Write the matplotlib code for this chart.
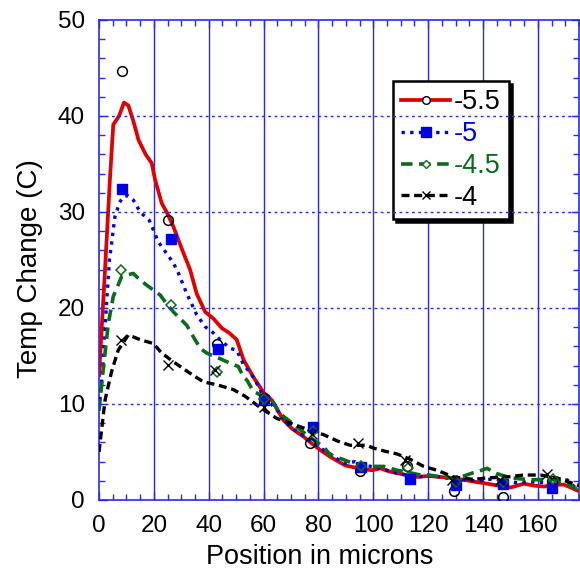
import matplotlib
matplotlib.use("Agg")
import matplotlib.pyplot as plt
from matplotlib.lines import Line2D
from matplotlib.ticker import MultipleLocator

plt.rcParams['font.family'] = ['Liberation Sans', 'DejaVu Sans']

# ---- simulated curves ----
x_a = [0, 2, 4, 5.2, 7.3, 9.1, 10.7, 12.5, 14.4, 17, 19.2, 20.5, 22.9, 25, 27.1, 30, 33.2, 35.6, 38.7,
       41.7, 44.8, 47.5, 50.2, 52.7, 56.3, 60, 63, 67.3, 70.5, 74.6, 77.5, 80.7, 84.3, 87.3, 89.8, 93,
       96.5, 99.5, 102.6, 105.5, 108.6, 112, 115.9, 120, 124.5, 128.5, 133, 137, 141.5, 145.5, 150,
       152.5, 154.9, 158.5, 162.2, 166, 169.5, 172, 174.3]
y_a = [13, 23, 33.5, 39.1, 40, 41.4, 41.1, 39.5, 37.5, 36, 35.1, 33.3, 30.9, 29.8, 28.5, 26.3, 24, 21.5,
       19.6, 18.9, 17.9, 17.4, 16.7, 14.6, 12.8, 11.2, 10.4, 8.3, 7.4, 6.6, 5.9, 5.2, 4.5, 4.0, 3.6, 3.4,
       3.2, 3.1, 3.3, 3.0, 2.8, 2.6, 2.4, 2.5, 2.4, 2.3, 2.1, 1.9, 1.7, 1.5, 1.3, 1.5, 1.7, 1.5, 1.4,
       1.6, 1.6, 1.3, 1.0]

x_b = [0, 1.2, 2.2, 3.8, 5.8, 7.5, 8.9, 10.5, 12.5, 15, 18.4, 21.6, 24.1, 27.1, 29, 32, 35.6, 38.7,
       41.7, 44.5, 47.8, 50.2, 52.7, 56.3, 60, 64.8, 69.7, 75, 78, 81.9, 84.3, 89.2, 93.4, 97, 101.3,
       105, 108.6, 112, 116, 120, 124.5, 128.5, 133, 138, 143.9, 148, 152.4, 157, 162.2, 166.5, 170.7,
       174.3]
y_b = [9.5, 13, 18, 25, 29.5, 31, 31.6, 31.7, 31.25, 30, 29.1, 26.9, 25.9, 24.7, 23.6, 21.5, 19.3,
       18.05, 17.4, 16.6, 15.8, 15.6, 14.1, 12.8, 10.8, 9.4, 7.6, 6.6, 5.9, 5.2, 4.8, 3.8, 4.0, 3.6,
       3.4, 3.1, 2.8, 2.6, 2.4, 2.5, 2.4, 2.2, 2.1, 2.0, 2.2, 2.0, 1.8, 1.9, 1.8, 1.9, 2.1, 1.1]

x_c = [0, 1.5, 3.4, 5.2, 8.3, 12.5, 15, 19.2, 22.3, 24.5, 27.1, 32, 34.4, 36.9, 39.3, 43.5, 46.6, 50.8,
       52.7, 53.9, 56.3, 60, 63, 66, 72.2, 77, 81.9, 84.3, 89.2, 95.3, 99.5, 103.8, 108.6, 112.5,
       117.2, 120.5, 124.5, 129, 133, 136, 138.5, 141.5, 144.5, 150, 157.3, 164.6, 169.5, 172, 174.3]
y_c = [9.3, 13.5, 18.4, 21.2, 23.3, 23.6, 22.9, 22.0, 21.35, 20.5, 19.6, 18.2, 17.0, 15.8, 15.3, 14.8,
       14.4, 13.9, 12.8, 12.5, 11.3, 10.8, 10.4, 9.0, 7.6, 6.5, 5.55, 4.7, 4.2, 3.5, 3.5, 3.5, 3.1, 2.9,
       2.6, 2.6, 2.4, 2.3, 2.5, 2.8, 3.0, 3.3, 2.8, 2.3, 2.1, 2.15, 1.9, 1.5, 1.1]

x_d = [0, 2.2, 4.6, 7, 10.7, 15, 19.8, 22.9, 27.1, 33.2, 38.1, 43, 49, 53.3, 57.5, 60, 64.8, 69.7, 74.6,
       81.9, 87.3, 91.6, 97.7, 100.1, 104, 108.6, 113, 118.4, 123.2, 129.3, 136.6, 141.5, 148.8, 154.9,
       161, 167, 170, 173.1, 175]
y_d = [5.0, 10.4, 13.4, 15.6, 17.2, 16.7, 16.3, 15.3, 14.4, 13.2, 12.3, 12.0, 11.5, 10.8, 9.9, 9.4, 8.5,
       8.0, 7.5, 6.8, 6.1, 5.7, 5.7, 5.4, 5.1, 4.8, 4.3, 3.5, 3.1, 2.4, 2.15, 2.3, 2.4, 2.6, 2.6, 2.3,
       2.0, 1.7, 1.5]

# ---- measured points ----
mx_a = [8.3, 25, 43.2, 60, 77, 95.3, 112.3, 129.3, 147.3, 165]
my_a = [44.7, 29.2, 16.3, 10.6, 5.9, 3.05, 3.5, 0.94, 0.28, 2.0]
mx_b = [8.3, 26.3, 43.3, 60, 78.2, 95.5, 113.5, 130.3, 147.3, 165.2]
my_b = [32.4, 27.2, 15.7, 10.4, 7.6, 3.4, 2.2, 1.6, 1.7, 1.3]
mx_c = [8, 26.2, 43, 60, 78, 95.5, 112.5, 130.3, 147.3, 165.6]
my_c = [24.0, 20.3, 13.3, 10.5, 7.2, 3.5, 3.3, 1.9, 1.9, 2.15]
mx_d = [8, 25.3, 42.3, 60, 77.6, 94.6, 111.7, 128.7, 146.3, 163.4]
my_d = [16.7, 14.1, 13.5, 9.7, 6.9, 5.97, 4.2, 2.1, 2.1, 2.7]

labels = ['-5.5', '-5', '-4.5', '-4']
colors = ['#e00000', '#0000e0', '#0b6b1a', '#000000']
label_colors = ['#000000', '#0000e0', '#0b6b1a', '#000000']
xticks = [0, 20, 40, 60, 80, 100, 120, 140, 160]
yticks = [0, 10, 20, 30, 40, 50]

fig = plt.figure(figsize=(5.8, 5.74), dpi=100)
ax = fig.add_axes([99/580, 74/574, 480/580, 480/574])

grid_col = '#2a2ae6'
ax.set_xlim(0, 175)
ax.set_ylim(0, 50)
ax.set_xticks(xticks)
ax.set_yticks(yticks)
ax.xaxis.set_minor_locator(MultipleLocator(5))
ax.yaxis.set_minor_locator(MultipleLocator(2))

for xv in xticks[1:]:
    ax.axvline(xv, color=grid_col, lw=1.0, zorder=1)
for yv in yticks[1:-1]:
    ax.axhline(yv, color=grid_col, lw=1.0, ls=(0, (2, 2.5)), zorder=6)

ax.plot(x_a, y_a, color=colors[0], lw=2.7, zorder=3, solid_joinstyle='round')
ax.plot(x_b, y_b, color=colors[1], lw=2.4, ls=(0, (1.0, 1.6)), zorder=3)
ax.plot(x_c, y_c, color=colors[2], lw=2.6, ls=(0, (3.2, 1.8)), zorder=3)
ax.plot(x_d, y_d, color=colors[3], lw=2.4, ls=(0, (2.4, 1.4)), zorder=3)

ax.plot(mx_a, my_a, ls='none', marker='o', ms=7, mfc='none', mec='black', mew=1.1, zorder=4)
ax.plot(mx_b, my_b, ls='none', marker='s', ms=7.5, mfc=colors[1], mec=colors[1], zorder=4)
ax.plot(mx_c, my_c, ls='none', marker='D', ms=5.5, mfc='none', mec=colors[2], mew=1.1, zorder=4)
ax.plot(mx_d, my_d, ls='none', marker='x', ms=7, mec='black', mew=1.0, zorder=4)

handles = [
    Line2D([], [], color=colors[0], lw=2.7, marker='o', ms=5.5, mfc='white', mec='black', mew=1.0),
    Line2D([], [], color=colors[1], lw=2.4, ls=(0, (1.0, 1.6)), marker='s', ms=6.5, mfc=colors[1], mec=colors[1]),
    Line2D([], [], color=colors[2], lw=2.6, ls=(0, (3.2, 1.8)), marker='D', ms=4.5, mfc='white', mec=colors[2], mew=1.0),
    Line2D([], [], color=colors[3], lw=2.4, ls=(0, (2.4, 1.4)), marker='x', ms=6, mec='black', mew=1.0),
]
leg = ax.legend(handles, labels, loc='upper left', bbox_to_anchor=(0.6125, 0.873), borderaxespad=0,
                fontsize=19.5, handlelength=1.8, handletextpad=0.15, labelspacing=0.22, borderpad=0.3,
                frameon=True, fancybox=False, shadow={'color': 'black', 'alpha': 1.0}, framealpha=1)
leg.get_frame().set_edgecolor('black')
leg.get_frame().set_linewidth(1.8)
leg.set_zorder(5)
for t, c in zip(leg.get_texts(), label_colors):
    t.set_color(c)

for s in ax.spines.values():
    s.set_color(grid_col)
    s.set_linewidth(1.2)
ax.tick_params(which='both', direction='in', top=True, right=True, color=grid_col,
               labelcolor='black', labelsize=17.5)
ax.tick_params(axis='x', which='major', length=6, width=1.0, pad=11)
ax.tick_params(axis='y', which='major', length=6, width=1.0, pad=10)
ax.tick_params(which='minor', length=4, width=1.0)

ax.set_xlabel('Position in microns', fontsize=19.5, labelpad=5)
ax.set_ylabel('Temp Change (C)', fontsize=20, labelpad=11)
ax.xaxis.label.set_x(0.46)
ax.yaxis.label.set_y(0.483)

fig.savefig('out.png', dpi=100)
